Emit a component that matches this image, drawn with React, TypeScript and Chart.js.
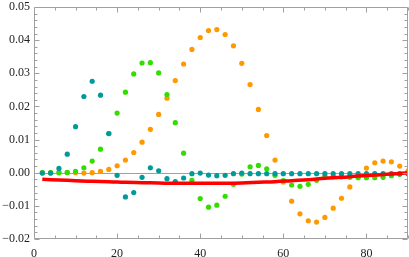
import React, { useEffect, useRef } from "react";
import { Chart, registerables } from "chart.js";

Chart.register(...registerables);

const xValues = [2, 4, 6, 8, 10, 12, 14, 16, 18, 20, 22, 24, 26, 28, 30, 32, 34, 36, 38, 40, 42, 44, 46, 48, 50, 52, 54, 56, 58, 60, 62, 64, 66, 68, 70, 72, 74, 76, 78, 80, 82, 84, 86, 88, 90];

const tealValues = [-0.0001, -0.0001, 0.0013, 0.0056, 0.0139, 0.0230, 0.0276, 0.0234, 0.0118, -0.0008, -0.0073, -0.0060, -0.0014, 0.0015, 0.0006, -0.0018, -0.0027, -0.0016, -0.0003, -0.0001, -0.0007, -0.0009, -0.0008, -0.0003, -0.0001, -0.0003, -0.0003, -0.0003, -0.0003, -0.0003, -0.0003, -0.0003, -0.0003, -0.0003, -0.0003, -0.0003, -0.0003, -0.0003, -0.0003, -0.0003, -0.0003, -0.0003, -0.0003, -0.0003, -0.0003];

const greenValues = [0.0000, 0.0000, 0.0000, 0.0001, 0.0004, 0.0015, 0.0035, 0.0071, 0.0118, 0.0180, 0.0243, 0.0298, 0.0331, 0.0332, 0.0301, 0.0236, 0.0151, 0.0059, -0.0023, -0.0078, -0.0104, -0.0098, -0.0071, -0.0035, -0.0004, 0.0018, 0.0022, 0.0012, -0.0008, -0.0024, -0.0037, -0.0041, -0.0035, -0.0023, -0.0011, -0.0012, -0.0013, -0.0014, -0.0015, -0.0015, -0.0015, -0.0014, -0.0009, -0.0005, -0.0003];

const orangeValues = [0.0000, 0.0000, 0.0000, 0.0000, 0.0000, -0.0001, 0.0000, 0.0004, 0.0010, 0.0021, 0.0038, 0.0061, 0.0092, 0.0131, 0.0176, 0.0225, 0.0278, 0.0328, 0.0372, 0.0408, 0.0429, 0.0432, 0.0417, 0.0383, 0.0330, 0.0266, 0.0191, 0.0112, 0.0038, -0.0028, -0.0086, -0.0124, -0.0145, -0.0149, -0.0135, -0.0107, -0.0077, -0.0043, -0.0012, 0.0014, 0.0030, 0.0035, 0.0033, 0.0020, 0.0006];

const redX = [2, 6, 10, 14, 18, 22, 26, 30, 34, 38, 42, 46, 50, 54, 58, 62, 66, 70, 74, 78, 82, 86, 90];
const redValues = [-0.0020, -0.0022, -0.0024, -0.0026, -0.0027, -0.0029, -0.0030, -0.0031, -0.0032, -0.0032, -0.0032, -0.0032, -0.0031, -0.0029, -0.0027, -0.0024, -0.0021, -0.0017, -0.0014, -0.0010, -0.0007, -0.0004, 0.0000];

const xTickLabels = ["0", "20", "40", "60", "80"];

const xMin = 0;
const xMax = 90;
const yMin = -0.02;
const yMax = 0.05;
const xMajorStep = 20;
const xMinorStep = 5;
const yMajorStep = 0.01;
const yMinorStep = 0.002;

const FRAME = "#a0a0a0";

const toPoints = (xs: number[], ys: number[]) => xs.map((x, i) => ({ x, y: ys[i] }));

const framePlugin = {
  id: "mmaFrame",
  beforeDatasetsDraw(chart: any) {
    const { ctx, chartArea, scales } = chart;
    const y0 = Math.round(scales.y.getPixelForValue(0)) + 0.5;
    ctx.save();
    ctx.strokeStyle = FRAME;
    ctx.lineWidth = 1;
    ctx.beginPath();
    ctx.moveTo(chartArea.left, y0);
    ctx.lineTo(chartArea.right, y0);
    ctx.stroke();
    ctx.restore();
  },
  afterDraw(chart: any) {
    const { ctx, chartArea, scales } = chart;
    const { left, right, top, bottom } = chartArea;
    ctx.save();
    ctx.strokeStyle = FRAME;
    ctx.lineWidth = 1;
    const L = Math.round(left) + 0.5;
    const R = Math.round(right) - 0.5;
    const T = Math.round(top) + 0.5;
    const B = Math.round(bottom) - 0.5;
    ctx.beginPath();
    ctx.rect(L, T, R - L, B - T);
    ctx.stroke();
    ctx.beginPath();
    const nx = Math.round((xMax - xMin) / xMinorStep);
    for (let i = 0; i <= nx; i++) {
      const v = xMin + i * xMinorStep;
      const major = Math.abs(v / xMajorStep - Math.round(v / xMajorStep)) < 1e-6;
      const len = major ? 5 : 3;
      const px = Math.round(scales.x.getPixelForValue(v)) + 0.5;
      ctx.moveTo(px, B);
      ctx.lineTo(px, B - len);
      ctx.moveTo(px, T);
      ctx.lineTo(px, T + len);
    }
    const ny = Math.round((yMax - yMin) / yMinorStep);
    for (let i = 0; i <= ny; i++) {
      const v = yMin + i * yMinorStep;
      const major = Math.abs(v / yMajorStep - Math.round(v / yMajorStep)) < 1e-6;
      const len = major ? 5 : 3;
      const py = Math.round(scales.y.getPixelForValue(v)) + 0.5;
      ctx.moveTo(L, py);
      ctx.lineTo(L + len, py);
      ctx.moveTo(R, py);
      ctx.lineTo(R - len, py);
    }
    ctx.stroke();
    ctx.restore();
  },
};

export default function App() {
  const ref = useRef<HTMLCanvasElement | null>(null);
  useEffect(() => {
    if (!ref.current) return;
    const font = { family: "'Liberation Serif', 'Times New Roman', serif", size: 12 };
    const chart = new Chart(ref.current, {
      type: "scatter",
      data: {
        datasets: [
          {
            type: "line",
            data: toPoints(redX, redValues),
            borderColor: "#ff0000",
            borderWidth: 3.5,
            pointRadius: 0,
            tension: 0.4,
            fill: false,
          } as any,
          {
            data: toPoints(xValues, tealValues),
            backgroundColor: "#009a9a",
            borderWidth: 0,
            pointRadius: 2.6,
          },
          {
            data: toPoints(xValues, greenValues),
            backgroundColor: "#33dd00",
            borderWidth: 0,
            pointRadius: 2.6,
          },
          {
            data: toPoints(xValues, orangeValues),
            backgroundColor: "#ff9900",
            borderWidth: 0,
            pointRadius: 2.6,
          },
        ],
      },
      options: {
        responsive: false,
        animation: false,
        events: [],
        layout: { autoPadding: false, padding: { top: 7, right: 1, bottom: 0, left: 0 } },
        plugins: { legend: { display: false }, tooltip: { enabled: false } },
        scales: {
          x: {
            type: "linear",
            min: xMin,
            max: xMax,
            grid: { display: false, drawTicks: false },
            border: { display: false },
            afterBuildTicks: (s: any) => {
              s.ticks = xTickLabels.map((t) => ({ value: Number(t) }));
            },
            ticks: {
              padding: 8,
              color: "#222",
              font,
              maxRotation: 0,
              autoSkip: false,
              callback: (v: any) => String(v),
            },
            afterFit: (s: any) => {
              s.height = 18;
              s.paddingLeft = 0;
              s.paddingRight = 0;
            },
          },
          y: {
            type: "linear",
            min: yMin,
            max: yMax,
            grid: { display: false, drawTicks: false },
            border: { display: false },
            ticks: {
              stepSize: yMajorStep,
              padding: 4,
              color: "#222",
              font,
              callback: (v: any) => {
                const n = Number(v);
                const s = Math.abs(n).toFixed(2);
                return n < -1e-9 ? "\u2212" + s : s;
              },
            },
            afterFit: (s: any) => {
              s.width = 34;
              s.paddingTop = 0;
              s.paddingBottom = 0;
            },
          },
        },
      },
      plugins: [framePlugin],
    });
    return () => chart.destroy();
  }, []);
  return (
    <div style={{ position: "fixed", left: 0, top: 0, width: 409, height: 257 }}>
      <canvas ref={ref} width={409} height={257} />
    </div>
  );
}
